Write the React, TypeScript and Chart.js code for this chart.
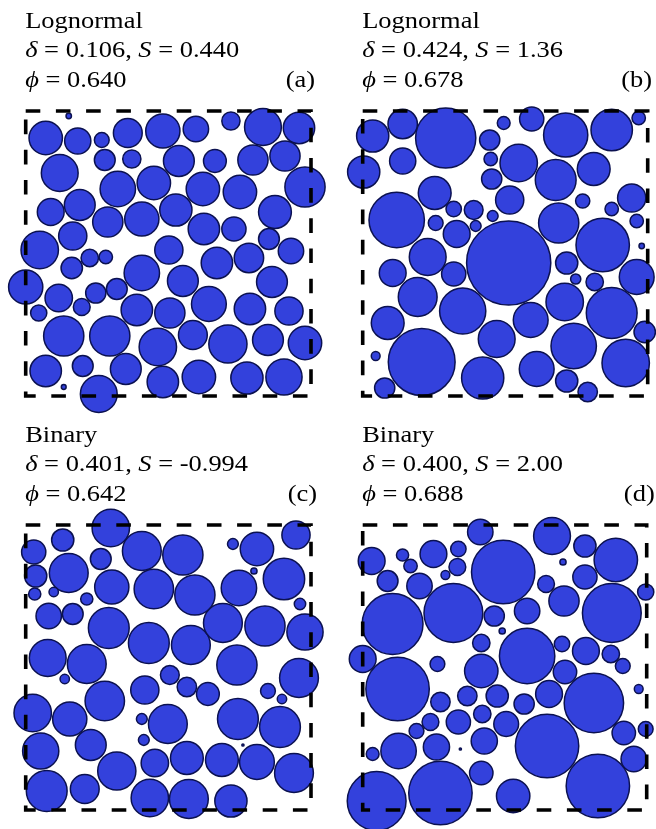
import React, { useEffect, useRef } from 'react';
import { Chart, registerables } from 'chart.js';

Chart.register(...registerables);

type Circle = [number, number, number]; // x, y (from box top-left, y downward), radius — box units (1 unit = 1 px)

const BOX_SIZE = 285;
const BOX_X = [0, 285, 285, 0, 0];
const BOX_Y = [0, 0, 285, 285, 0];

const distributionNames = ['Lognormal', 'Lognormal', 'Binary', 'Binary'];
const deltaValues = ['0.106', '0.424', '0.401', '0.400'];
const skewValues = ['0.440', '1.36', '-0.994', '2.00'];
const phiValues = ['0.640', '0.678', '0.642', '0.688'];
const panelLabels = ['(a)', '(b)', '(c)', '(d)'];

const circlesA: Circle[] = [
  [43, 5, 3.3], [20, 27, 17.3], [52, 30, 13.7], [76, 29, 8], [102, 22, 15], [137, 20, 17.7],
  [170, 18, 13.3], [205, 10, 9.7], [237, 16, 19], [273, 17, 16.3], [34, 62, 19], [79, 49, 11],
  [106, 48, 9.7], [153, 50, 16], [189, 50, 12], [227, 49, 15.7], [259, 45, 15.7], [279, 76, 20.7],
  [92, 78, 18.3], [128, 72, 17.3], [177, 78, 17.3], [214, 81, 17.3], [25, 101, 14], [54, 94, 16],
  [82, 111, 15.7], [116, 108, 17.7], [150, 99, 16.7], [178, 118, 16.3], [208, 118, 12.7],
  [249, 101, 17], [47, 125, 14.7], [14, 139, 19.3], [243, 128, 11], [143, 139, 14.7],
  [265, 140, 13.3], [46, 157, 11.3], [64, 147, 9.3], [80, 146, 7.3], [116, 162, 18.3],
  [191, 152, 16.3], [223, 147, 15.3], [246, 171, 16], [0, 176, 17.7], [33, 187, 14.3],
  [56, 196, 9], [70, 182, 10.7], [91, 178, 11], [157, 170, 16], [13, 202, 8.7], [111, 199, 16.3],
  [144, 202, 15.7], [183, 193, 18], [224, 198, 16.3], [263, 200, 14.7], [38, 225, 20.7],
  [84, 225, 20.7], [132, 236, 19.3], [167, 224, 15], [202, 233, 19.7], [242, 229, 16],
  [279, 232, 17.3], [20, 260, 16.3], [57, 255, 11], [100, 258, 16], [38, 276, 3], [73, 283, 19],
  [137, 271, 16.3], [173, 266, 17.3], [221, 267, 16.7], [258, 266, 18.7],
];

const circlesB: Circle[] = [
  [10, 25, 16.7], [40, 13, 15.3], [83, 27, 30.7], [141, 12, 7], [169, 8, 12.7], [203, 24, 22.7],
  [249, 19, 21.3], [276, 7, 7.3], [127, 29, 10.7], [40, 50, 13.7], [1, 61, 16.7], [128, 48, 7.3],
  [156, 52, 19.3], [129, 68, 10.7], [193, 69, 21], [231, 58, 17], [72, 82, 17], [34, 109, 28.3],
  [147, 89, 14.7], [220, 90, 7.7], [269, 87, 14.7], [91, 98, 8.3], [111, 99, 10], [130, 105, 6],
  [249, 98, 7.3], [73, 112, 8], [94, 123, 14], [113, 115, 6], [196, 112, 20.7], [274, 110, 7.3],
  [146, 152, 42.7], [240, 134, 27.3], [279, 135, 3.3], [65, 146, 19], [204, 152, 11.7],
  [30, 162, 14], [274, 166, 18], [91, 163, 12.7], [55, 186, 20], [213, 168, 5.7], [232, 171, 9.3],
  [202, 191, 19.3], [100, 200, 23.7], [168, 209, 18], [249, 202, 26], [25, 212, 17],
  [134, 228, 19], [282, 221, 11.3], [211, 235, 23.3], [13, 245, 5], [59, 251, 34],
  [263, 252, 24.3], [174, 258, 18], [120, 267, 21.7], [204, 270, 11.7], [22, 277, 10.7],
  [225, 281, 10.3],
];

const circlesC: Circle[] = [
  [85, 3, 19.3], [37, 15, 11.7], [8, 27, 12.7], [75, 34, 11], [116, 26, 20], [157, 30, 20.7],
  [207, 19, 6], [231, 24, 17.3], [270, 10, 14.7], [10, 51, 11.7], [43, 48, 20], [9, 69, 6.7],
  [28, 67, 5.3], [61, 74, 6.7], [86, 62, 17.7], [128, 64, 20.3], [169, 70, 20.7], [213, 63, 18.3],
  [228, 46, 3.7], [258, 54, 21.3], [274, 79, 6.3], [23, 91, 13.3], [47, 89, 11], [83, 103, 21],
  [123, 118, 21], [165, 120, 20], [197, 98, 20], [239, 101, 20.7], [279, 107, 18.7],
  [22, 133, 19], [61, 139, 20], [211, 140, 20.7], [273, 153, 20], [39, 154, 5.3], [144, 150, 10],
  [161, 162, 10.3], [182, 169, 12], [119, 165, 14.7], [79, 176, 20.3], [242, 166, 8],
  [256, 174, 5.3], [7, 188, 19.3], [44, 194, 17.7], [116, 194, 6], [142, 199, 20], [212, 194, 21],
  [254, 202, 21], [15, 226, 18.7], [65, 220, 16], [118, 215, 6], [217, 220, 1.7], [91, 246, 19.7],
  [129, 238, 14.3], [161, 233, 17], [196, 235, 17], [231, 237, 18], [268, 248, 20], [21, 266, 21],
  [59, 264, 15], [124, 273, 19.3], [163, 274, 20], [205, 276, 16.7],
];

const circlesD: Circle[] = [
  [118, 7, 13.3], [190, 11, 19], [9, 36, 14], [40, 30, 6.7], [48, 41, 7.3], [71, 29, 14],
  [96, 24, 8.3], [95, 42, 9], [83, 50, 5], [141, 47, 32.3], [223, 21, 11.7], [254, 35, 22.3],
  [201, 37, 3.7], [25, 56, 11], [57, 61, 13.3], [184, 59, 9], [223, 52, 12.7], [284, 67, 8.7],
  [202, 76, 15.7], [30, 99, 31], [91, 88, 30], [132, 91, 10.7], [165, 86, 13.3], [250, 88, 30],
  [140, 106, 3.7], [119, 118, 9.3], [165, 131, 28.3], [200, 119, 8.3], [224, 126, 14],
  [249, 129, 9.3], [0, 134, 14], [35, 164, 32.3], [75, 139, 8], [119, 146, 17.3], [203, 147, 12.3],
  [261, 141, 8], [78, 177, 10.3], [105, 171, 10.3], [135, 171, 11.7], [162, 179, 10.7],
  [187, 169, 14], [232, 178, 30.3], [277, 164, 5], [68, 197, 9], [96, 197, 12.7], [120, 189, 9.3],
  [144, 199, 13], [54, 206, 8], [185, 221, 32.3], [262, 208, 12.3], [284, 204, 8], [36, 226, 18.3],
  [74, 222, 13.7], [98, 224, 1.7], [122, 216, 13.7], [10, 229, 7], [272, 234, 13.3],
  [119, 248, 12.3], [14, 276, 30], [78, 268, 32.3], [151, 271, 17.3], [236, 261, 32.3],
];

const panelCircles = [circlesA, circlesB, circlesC, circlesD];

const FILL = '#3341dc';
const EDGE = '#0b1150';
const FONT = '"Liberation Serif", "Times New Roman", "DejaVu Serif", serif';
const FONT_SIZE = 23;
const STRETCH = 1.15;

type Seg = { t: string; i?: boolean };

function segWidth(ctx: CanvasRenderingContext2D, segs: Seg[]) {
  let w = 0;
  for (const s of segs) {
    ctx.font = `${s.i ? 'italic ' : ''}${FONT_SIZE}px ${FONT}`;
    w += ctx.measureText(s.t).width;
  }
  return w * STRETCH;
}

function drawRich(ctx: CanvasRenderingContext2D, segs: Seg[], x: number, y: number) {
  ctx.save();
  ctx.translate(x, y);
  ctx.scale(STRETCH, 1);
  ctx.fillStyle = '#000';
  ctx.textBaseline = 'alphabetic';
  ctx.textAlign = 'left';
  let cx = 0;
  for (const s of segs) {
    ctx.font = `${s.i ? 'italic ' : ''}${FONT_SIZE}px ${FONT}`;
    ctx.fillText(s.t, cx, 0);
    cx += ctx.measureText(s.t).width;
  }
  ctx.restore();
}

type PanelSpec = {
  left: number;
  top: number;
  width: number;
  height: number;
  pad: { left: number; top: number; right: number; bottom: number };
  labelDx: number;
};

const panelSpecs: PanelSpec[] = [
  { left: 0, top: 0, width: 328, height: 414, pad: { left: 25.7, top: 111, right: 17, bottom: 18 }, labelDx: 4 },
  { left: 328, top: 0, width: 328, height: 414, pad: { left: 34.7, top: 111, right: 8.3, bottom: 18 }, labelDx: 4.3 },
  { left: 0, top: 414, width: 328, height: 415, pad: { left: 25.7, top: 111, right: 17, bottom: 19 }, labelDx: 6 },
  { left: 328, top: 414, width: 328, height: 415, pad: { left: 34.7, top: 111, right: 9.3, bottom: 19 }, labelDx: 8 },
];

function Panel({ index }: { index: number }) {
  const ref = useRef<HTMLCanvasElement | null>(null);
  const spec = panelSpecs[index];

  useEffect(() => {
    if (!ref.current) return;
    const circles = panelCircles[index];
    const titlePlugin = {
      id: 'panelTitle' + index,
      afterDraw(chart: any) {
        const ctx: CanvasRenderingContext2D = chart.ctx;
        const area = chart.chartArea;
        const x = area.left - 0.5;
        drawRich(ctx, [{ t: distributionNames[index] }], x, area.top - 82.7);
        drawRich(
          ctx,
          [
            { t: 'δ', i: true },
            { t: ' = ' + deltaValues[index] + ', ' },
            { t: 'S', i: true },
            { t: ' = ' + skewValues[index] },
          ],
          x,
          area.top - 53.7
        );
        drawRich(ctx, [{ t: 'ϕ', i: true }, { t: ' = ' + phiValues[index] }], x, area.top - 24.5);
        const lab = [{ t: panelLabels[index] }];
        const w = segWidth(ctx, lab);
        drawRich(ctx, lab, area.right + spec.labelDx - w, area.top - 24.5);
      },
    };

    const chart = new Chart(ref.current, {
      type: 'bubble',
      data: {
        datasets: [
          {
            type: 'line',
            data: BOX_X.map((x, k) => ({ x, y: BOX_Y[k] })),
            borderColor: '#000',
            borderWidth: 3.6,
            borderDash: [14.6, 15.6],
            pointRadius: 0,
            fill: false,
            tension: 0,
            clip: false,
            order: 0,
          } as any,
          {
            type: 'bubble',
            data: circles.map(([x, y, r]) => ({ x, y, r: Math.max(0.8, r - 0.6) })),
            backgroundColor: FILL,
            borderColor: EDGE,
            borderWidth: 1.5,
            hoverBorderWidth: 1.5,
            clip: false,
            order: 1,
          } as any,
        ],
      },
      options: {
        animation: false,
        responsive: false,
        events: [],
        layout: { padding: spec.pad, autoPadding: false },
        scales: {
          x: { type: 'linear', min: 0, max: BOX_SIZE, display: false },
          y: { type: 'linear', min: 0, max: BOX_SIZE, reverse: true, display: false },
        },
        plugins: {
          legend: { display: false },
          tooltip: { enabled: false },
          title: { display: false },
        },
      },
      plugins: [titlePlugin],
    });
    return () => chart.destroy();
  }, [index]);

  return (
    <canvas
      ref={ref}
      width={spec.width}
      height={spec.height}
      style={{
        position: 'absolute',
        left: spec.left,
        top: spec.top,
        width: spec.width,
        height: spec.height,
      }}
    />
  );
}

export default function App() {
  return (
    <div
      style={{
        position: 'absolute',
        left: 0,
        top: 0,
        width: 656,
        height: 829,
        background: '#fff',
        overflow: 'hidden',
      }}
    >
      {[0, 1, 2, 3].map((i) => (
        <Panel key={i} index={i} />
      ))}
    </div>
  );
}
